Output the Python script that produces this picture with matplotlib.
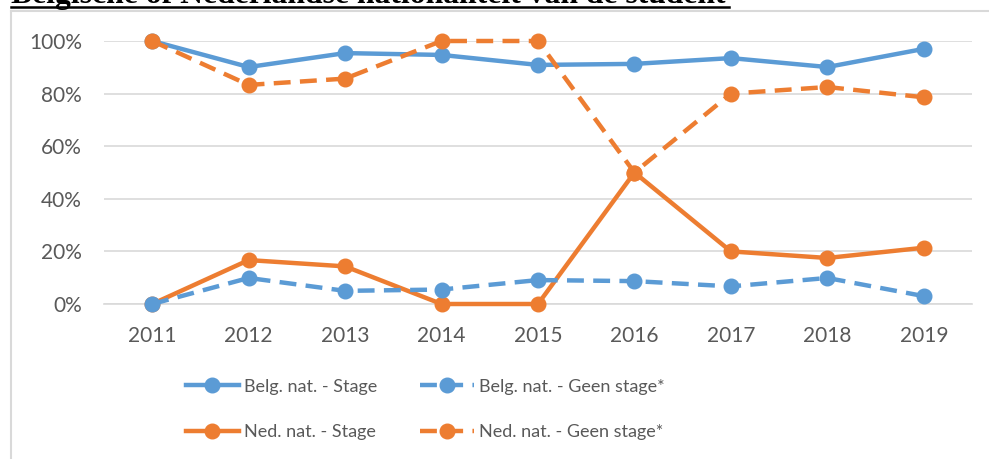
import numpy as np
import matplotlib
matplotlib.use("Agg")
from matplotlib import pyplot as plt
from matplotlib.lines import Line2D

# data
jaren = ["2011", "2012", "2013", "2014", "2015", "2016", "2017", "2018", "2019"]
belg_stage = [1.000, 0.901, 0.954, 0.947, 0.909, 0.913, 0.935, 0.901, 0.970]
belg_geen = [0.000, 0.099, 0.050, 0.055, 0.091, 0.087, 0.067, 0.099, 0.030]
ned_stage = [0.000, 0.167, 0.143, 0.000, 0.000, 0.500, 0.200, 0.175, 0.214]
ned_geen = [1.000, 0.833, 0.857, 1.000, 1.000, 0.500, 0.800, 0.825, 0.786]
titel = "Belgische of Nederlandse nationaliteit van de student"

blauw = "#5B9BD5"
oranje = "#ED7D31"
grijs = "#595959"

plt.rcParams['font.family'] = ['Lato', 'DejaVu Sans']

fig = plt.figure(figsize=(9.89, 4.59), dpi=100)
W, H = 989, 459

# chart frame (only left and top edge visible)
fig.add_artist(Line2D([11 / W, 11 / W], [0, 1 - 11 / H], color="#D9D9D9", lw=1.5))
fig.add_artist(Line2D([11 / W, 1], [1 - 11 / H, 1 - 11 / H], color="#D9D9D9", lw=1.5))

# title, cut off at the top
fig.text(11 / W, 1 - 3.5 / H, titel, family="Liberation Serif", weight="bold",
         fontsize=22.8, va="baseline", ha="left", color="black")
fig.add_artist(Line2D([11 / W, 729 / W], [1 - 6.5 / H, 1 - 6.5 / H], color="black", lw=1.8))

ax = fig.add_axes([104 / W, 1 - 304 / H, (972 - 104) / W, (304 - 41) / H])
x = np.arange(len(jaren))

series = [
    (belg_stage, blauw, "-", "Belg. nat. - Stage"),
    (ned_stage, oranje, "-", "Ned. nat. - Stage"),
    (belg_geen, blauw, "--", "Belg. nat. - Geen stage*"),
    (ned_geen, oranje, "--", "Ned. nat. - Geen stage*"),
]
handles = {}
for vals, kleur, stijl, naam in series:
    ln, = ax.plot(x, vals, color=kleur, lw=3.2, linestyle=stijl, marker="o",
                  markersize=10.5, clip_on=False, label=naam, zorder=3)
    if stijl == "--":
        ln.set_dashes((3.8, 2.1))
    handles[naam] = ln

ax.set_xlim(-0.5, len(jaren) - 0.5)
ax.set_ylim(0, 1)
ax.set_yticks(np.linspace(0, 1, 6))
ax.set_yticklabels([f"{int(v * 100)}%" for v in np.linspace(0, 1, 6)])
ax.set_xticks(x)
ax.set_xticklabels(jaren)
ax.tick_params(length=0, labelsize=15, labelcolor=grijs)
ax.tick_params(axis="x", pad=16)
ax.tick_params(axis="y", pad=16)
ax.grid(axis="y", color="#D9D9D9", lw=1.2)
ax.set_axisbelow(True)
for s in ax.spines.values():
    s.set_visible(False)
ax.spines["bottom"].set_visible(True)
ax.spines["bottom"].set_color("#D9D9D9")
ax.spines["bottom"].set_linewidth(1.2)

volgorde = ["Belg. nat. - Stage", "Ned. nat. - Stage",
            "Belg. nat. - Geen stage*", "Ned. nat. - Geen stage*"]
leg = fig.legend([handles[n] for n in volgorde], volgorde, ncol=2,
                 loc="center", bbox_to_anchor=(425 / W, 1 - 409.5 / H),
                 frameon=False, fontsize=13, labelcolor=grijs,
                 handlelength=2.95, handletextpad=0.28, columnspacing=2.4,
                 labelspacing=1.65, markerscale=1.0)

fig.savefig("out.png", dpi=100)
